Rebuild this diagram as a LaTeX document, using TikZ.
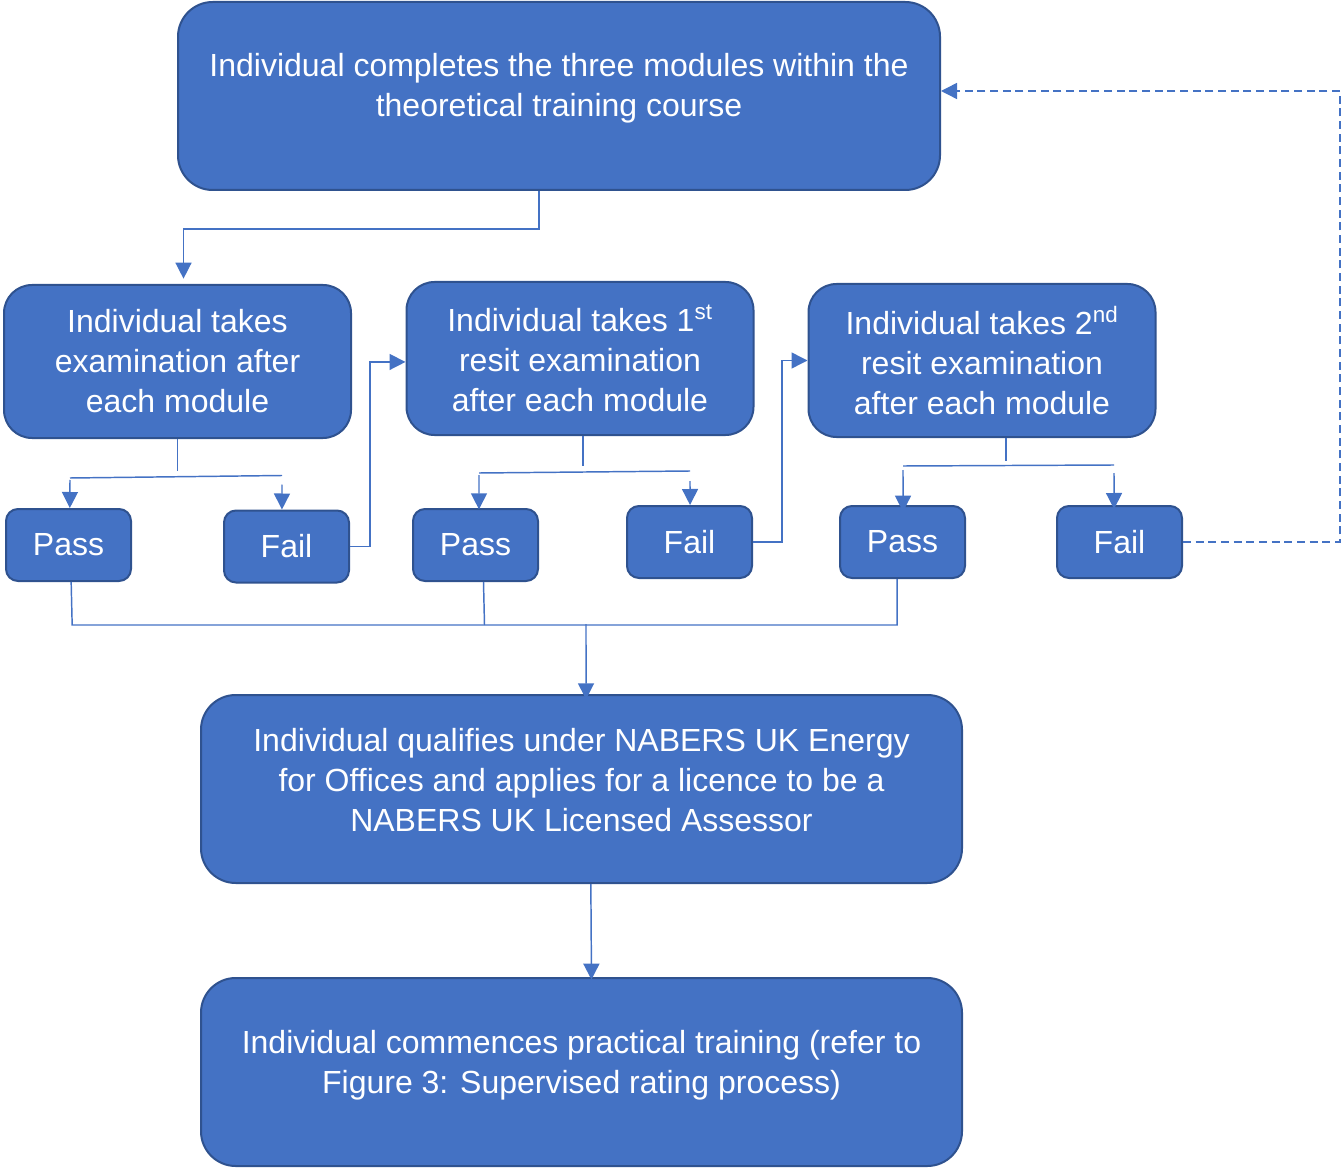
\documentclass[tikz,border=0pt]{standalone}
\usepackage{fontspec}
\setmainfont{Liberation Sans}
\usetikzlibrary{arrows.meta,calc}
\definecolor{boxfill}{HTML}{4472C4}
\definecolor{boxedge}{HTML}{2F528F}
\begin{document}
\begin{tikzpicture}[x=0.75pt,y=-0.75pt,
  box/.style={draw=boxedge, fill=boxfill, line width=1.5pt, rounded corners=#1,
    inner sep=0pt, text=white, align=center, font=\fontsize{24}{30}\selectfont},
  box/.default=20pt,
  bigbox/.style={box=26pt, minimum width=761*0.75pt, minimum height=188*0.75pt},
  midbox/.style={box=21pt, minimum width=347*0.75pt, minimum height=153*0.75pt},
  smallbox/.style={box=9pt, minimum width=125*0.75pt, minimum height=72*0.75pt},
  txt/.style={text=white, font=\fontsize{24}{30}\selectfont, align=center, inner sep=0pt},
  conn/.style={draw=boxfill, line width=1.1pt},
  arr/.style={conn, -{Triangle[width=12pt,length=12pt]}}]
\useasboundingbox (0,0) rectangle (1342,1169);

% boxes
\node[bigbox, minimum width=762*0.75pt] (top) at (559,96) {};
\node[txt] (toptxt) at (559,88) {Individual completes the three modules within the\\theoretical training course};

\node[midbox] (A) at (177.5,361.5) {Individual takes\\examination after\\each module};
\node[midbox] (B) at (580,358.5) {Individual takes 1\textsuperscript{st}\\resit examination\\after each module};
\node[midbox] (C) at (982,360.5) {Individual takes 2\textsuperscript{nd}\\resit examination\\after each module};

\node[smallbox] (P1) at (68.5,545) {Pass};
\node[smallbox] (F1) at (286.5,546.5) {Fail};
\node[smallbox] (P2) at (475.5,545) {Pass};
\node[smallbox] (F2) at (689.5,542) {Fail};
\node[smallbox] (P3) at (902.5,542) {Pass};
\node[smallbox] (F3) at (1119.5,542) {Fail};

\node[bigbox] (Q) at (581.5,789) {};
\node[txt] (Qtxt) at (581.5,780) {Individual qualifies under NABERS UK Energy\\for Offices and applies for a licence to be a\\NABERS UK Licensed Assessor};

\node[bigbox] (R) at (581.5,1072) {};
\node[txt] (Rtxt) at (581.5,1065) {Individual commences practical training (refer to\\Figure 3: Supervised rating process)};

% top to A
\draw[arr] ([xshift=-15pt]top.south) -- ++(0,38) -| ([xshift=4.5pt,yshift=4pt]A.north);

% A to pass/fail
\draw[conn] (A.south) -- ++(0,32);
\draw[conn] ($(P1.north)+(1.5,-30)$) -- ($(F1.north)+(-4.5,-34)$);
\draw[arr] ($(P1.north)+(1.5,-28)$) -- ([xshift=1pt]P1.north);
\draw[arr] ($(F1.north)+(-4.5,-25)$) -- ([xshift=-3.4pt]F1.north);

% Fail1 to B
\draw[arr] (F1.east) -- ++(20,0) |- ([yshift=-2.6pt]B.west);

% B to pass/fail
\draw[conn] ([xshift=2.2pt]B.south) -- ++(0,30);
\draw[conn] ($(P2.north)+(3.5,-35)$) -- ($(F2.north)+(0.5,-34)$);
\draw[arr] ($(P2.north)+(3.5,-33)$) -- ([xshift=2.6pt,yshift=-1pt]P2.north);
\draw[arr] ($(F2.north)+(0.5,-24)$) -- ([xshift=0.4pt]F2.north);

% Fail2 to C
\draw[arr] (F2.east) -- ++(29,0) |- (C.west);

% C to pass/fail
\draw[conn] ([xshift=18pt]C.south) -- ++(0,23);
\draw[conn] ($(P3.north)+(0.5,-39)$) -- ($(F3.north)+(-5.5,-40)$);
\draw[arr] ($(P3.north)+(0.5,-35)$) -- ([xshift=0.4pt,yshift=-5pt]P3.north);
\draw[arr] ($(F3.north)+(-5.5,-32)$) -- ([xshift=-4.1pt,yshift=-3pt]F3.north);

% Passes to Q
\coordinate (j) at (586,624);
\draw[conn] ([xshift=2pt]P1.south) -- ++(1,43) -- ++(825,0) -- ++(0,-46);
\draw[conn] ([xshift=6pt]P2.south) -- ++(1,43);
\draw[arr] (j) -- ([xshift=3.4pt,yshift=-4pt]Q.north);

% Q to R
\draw[arr] ([xshift=7pt]Q.south) -- ([xshift=7.5pt,yshift=-2pt]R.north);

% Fail3 back to top
\draw[arr, dashed, dash pattern=on 6pt off 3.5pt] (F3.east) -- ++(157,0) |- ([yshift=3.75pt]top.east);
\end{tikzpicture}
\end{document}
